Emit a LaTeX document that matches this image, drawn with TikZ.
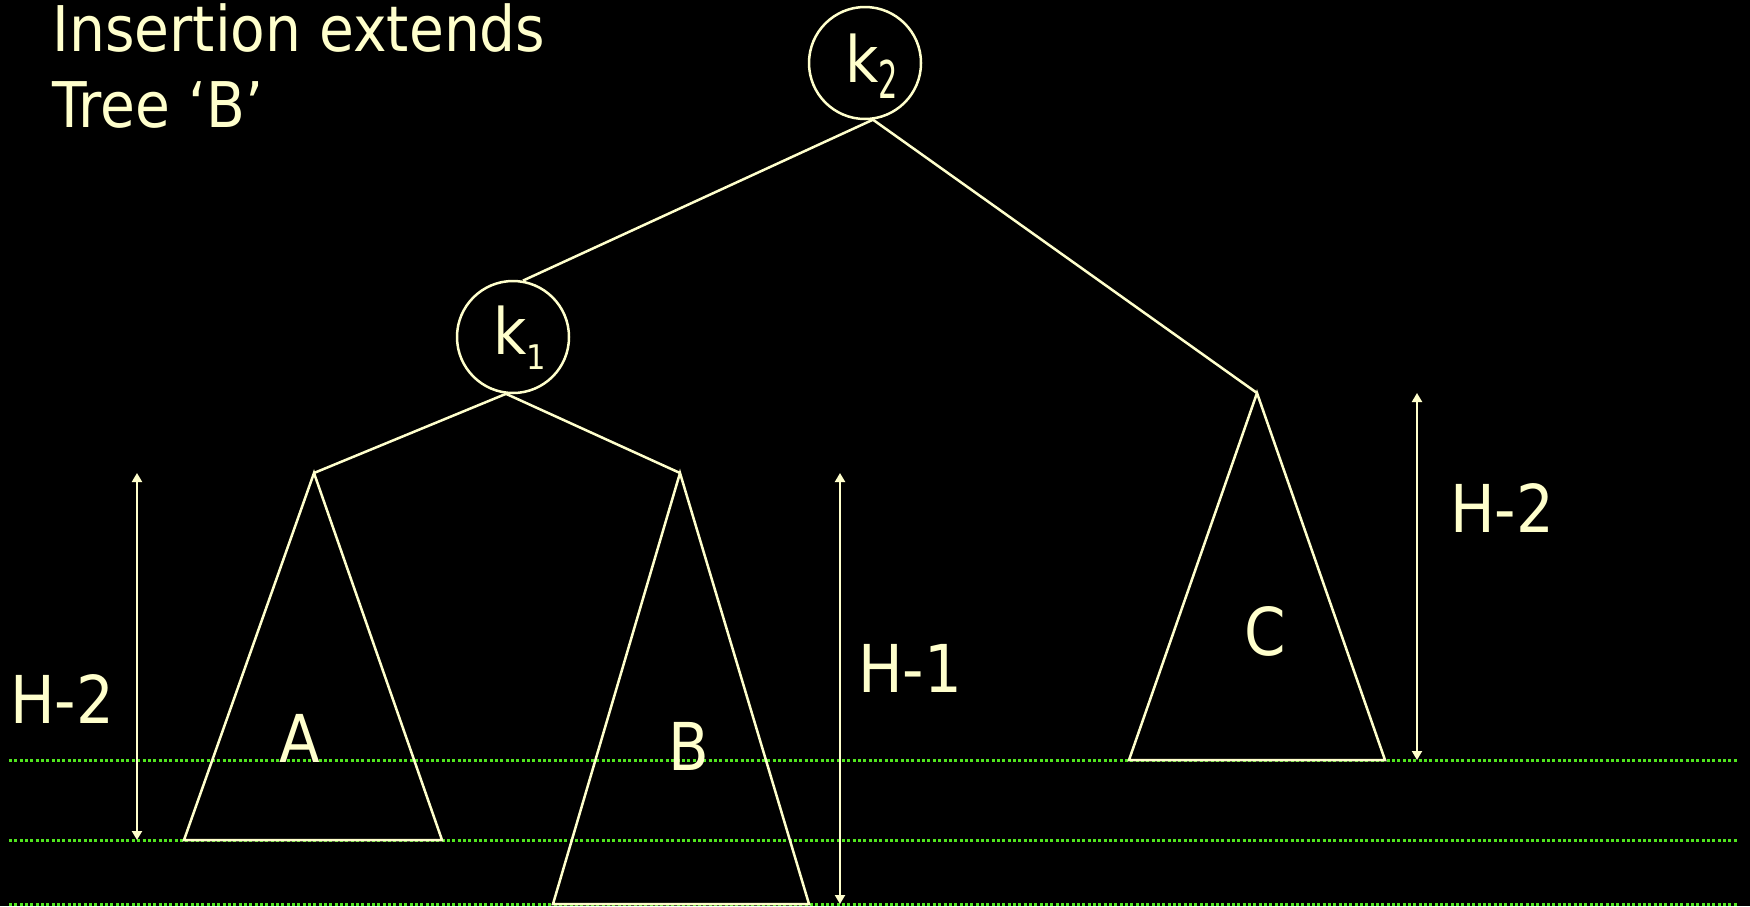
\documentclass[tikz,border=0pt]{standalone}
\usepackage{fontspec}
\usepackage{graphicx}
\usetikzlibrary{arrows.meta}
\newfontfamily\labelfont[FakeStretch=0.9]{DejaVu Sans}
\definecolor{cream}{RGB}{255,255,204}
\definecolor{dotgreen}{RGB}{80,230,30}
\begin{document}
\begin{tikzpicture}[x=0.5pt,y=-0.5pt,
  edge/.style={draw=cream,line width=1.25pt},
  tree/.style={draw=cream,line width=1.25pt,line join=miter},
  circ/.style={circle,draw=cream,line width=1.25pt,minimum size=56pt,inner sep=0pt},
  level/.style={draw=dotgreen,line width=1.5pt,dash pattern=on 1.5pt off 1.17pt},
  measure/.style={draw=cream,line width=1pt,{Triangle[length=4.5pt,width=5pt]}-{Triangle[length=4.5pt,width=5pt]}},
  lbl/.style={text=cream,font=\labelfont\fontsize{33}{33}\selectfont,inner sep=0pt,anchor=base},
  ttl/.style={text=cream,font=\labelfont\fontsize{31.5}{31.5}\selectfont,inner sep=0pt,anchor=base west},
  ktext/.style={text=cream,inner sep=0pt,anchor=base west},
]
\fill[black] (0,0) rectangle (1750,906);
\useasboundingbox (0,0) rectangle (1750,906);

% level lines
\coordinate (L1a) at (9,760);   \coordinate (L1b) at (1737,760);
\coordinate (L2a) at (9,840.5); \coordinate (L2b) at (1737,840.5);
\coordinate (L3a) at (9,904);   \coordinate (L3b) at (1737,904);
\draw[level] (L1a) -- (L1b);
\draw[level] (L2a) -- (L2b);
\draw[level] (L3a) -- (L3b);

% title
\node[ttl] (t1) at (52,51) {Insertion extends};
\node[ttl] (t2) at (52,127) {Tree ‘B’};

% tree nodes
\node[circ] (k2) at (865,63) {};
\node[circ] (k1) at (513,337) {};
\node[ktext] (k2t) at (845,82) {\labelfont\fontsize{32}{32}\selectfont k\raisebox{-8pt}{\scalebox{0.65}[1]{\fontsize{26}{26}\selectfont 2}}};
\node[ktext] (k1t) at (493,354) {\labelfont\fontsize{32}{32}\selectfont k\raisebox{-7.5pt}{\fontsize{17}{17}\selectfont 1}};

% subtrees
\coordinate (Atop) at (314,473);
\coordinate (Abl) at (184,840); \coordinate (Abr) at (442,840);
\coordinate (Btop) at (680,473);
\coordinate (Bbl) at (553,904); \coordinate (Bbr) at (809,904);
\coordinate (Ctop) at (1257,393);
\coordinate (Cbl) at (1129,760); \coordinate (Cbr) at (1385,760);
\draw[tree] (Atop) -- (Abl) -- (Abr) -- cycle;
\draw[tree] (Btop) -- (Bbl) -- (Bbr) -- cycle;
\draw[tree] (Ctop) -- (Cbl) -- (Cbr) -- cycle;

% edges
\draw[edge] (k2.-82) -- (k1.80);
\draw[edge] (k2.-82) -- (Ctop);
\draw[edge] (k1.-97) -- (Atop);
\draw[edge] (k1.-97) -- (Btop);

% height arrows
\coordinate (m1a) at (137,473);  \coordinate (m1b) at (137,840);
\coordinate (m2a) at (840,473);  \coordinate (m2b) at (840,904);
\coordinate (m3a) at (1417,393); \coordinate (m3b) at (1417,760);
\draw[measure] (m1a) -- (m1b);
\draw[measure] (m2a) -- (m2b);
\draw[measure] (m3a) -- (m3b);

% labels
\node[lbl] (lH2) at (62,723) {H-2};
\node[lbl] (lA) at (300,762) {A};
\node[lbl] (lH1) at (910,692) {H-1};
\node[lbl] (rH2) at (1502,532) {H-2};
\node[lbl] (lB) at (689,770) {B};
\node[lbl] (lC) at (1265,655) {C};
\end{tikzpicture}
\end{document}
